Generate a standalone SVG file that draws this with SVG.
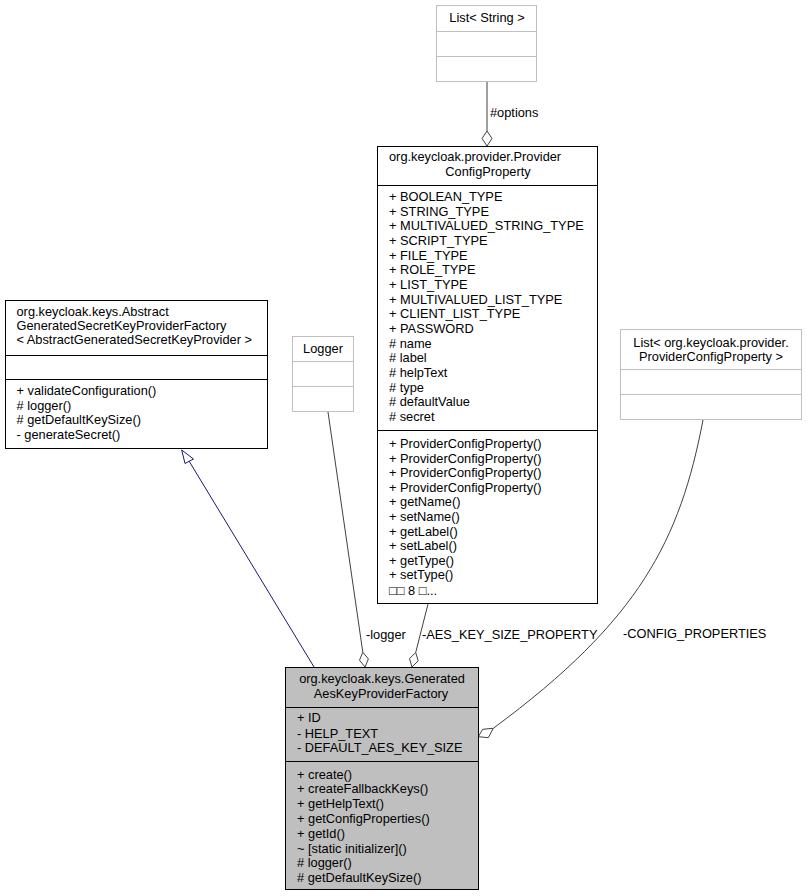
<svg xmlns="http://www.w3.org/2000/svg" width="807" height="896" viewBox="0 0 807 896">
<style>
text{font-family:"Liberation Sans",Arial,sans-serif;font-size:12.8px;fill:#000}
.m{text-anchor:middle}
.box{fill:#fff;stroke:#000;stroke-width:1}
.gbox{fill:#fff;stroke:#bfbfbf;stroke-width:1}
.main{fill:#bfbfbf;stroke:#000;stroke-width:1}
.sep{stroke:#000;stroke-width:1}
.gsep{stroke:#bfbfbf;stroke-width:1}
.agg{fill:none;stroke:#404040;stroke-width:1}
.dia{fill:#fff;stroke:#404040;stroke-width:1}
.inh{fill:none;stroke:#191970;stroke-width:1}
.tri{fill:#fff;stroke:#191970;stroke-width:1}
</style>
<rect width="807" height="896" fill="#fff"/>
<g id="connectors">
  <path class="agg" d="M487,82 L487,131"/>
  <polygon class="dia" points="487,146 482,138.5 487,131 492,138.5"/>
  <text x="490" y="117">#options</text>
  <path class="inh" d="M314,667 L189,461"/>
  <polygon class="tri" points="181.7,450 185,463.5 193.5,459"/>
  <path class="agg" d="M328,412 L362.8,652.2"/>
  <polygon class="dia" points="365,667 359.5,660.2 362.8,652.2 368.4,659"/>
  <text x="366" y="639">-logger</text>
  <path class="agg" d="M428,604 L415.7,652.5"/>
  <polygon class="dia" points="412,667 409.5,658.6 415.7,652.5 418.2,660.8"/>
  <text x="422" y="639">-AES_KEY_SIZE_PROPERTY</text>
  <path class="agg" d="M703,420 C680,540 640,620 493.3,728.3"/>
  <polygon class="dia" points="478.3,736.7 482.7,729.3 493.3,728.3 488.3,737.7"/>
  <text x="623" y="638">-CONFIG_PROPERTIES</text>
</g>
<g id="node-list-string">
  <rect class="gbox" x="436.5" y="5.5" width="100" height="76"/>
  <line class="gsep" x1="436.5" y1="31.5" x2="536.5" y2="31.5"/>
  <line class="gsep" x1="436.5" y1="56.5" x2="536.5" y2="56.5"/>
  <text class="m" x="487" y="22">List&lt; String &gt;</text>
</g>
<g id="node-provider-config-property">
  <rect class="box" x="377.5" y="146.5" width="220" height="457"/>
  <line class="sep" x1="377.5" y1="185.5" x2="597.5" y2="185.5"/>
  <line class="sep" x1="377.5" y1="430.5" x2="597.5" y2="430.5"/>
  <text x="389" y="161">org.keycloak.provider.Provider</text>
  <text class="m" x="488" y="176">ConfigProperty</text>
  <text x="389" y="201">+ BOOLEAN_TYPE</text>
  <text x="389" y="215.7">+ STRING_TYPE</text>
  <text x="389" y="230.3">+ MULTIVALUED_STRING_TYPE</text>
  <text x="389" y="245">+ SCRIPT_TYPE</text>
  <text x="389" y="259.7">+ FILE_TYPE</text>
  <text x="389" y="274.3">+ ROLE_TYPE</text>
  <text x="389" y="289">+ LIST_TYPE</text>
  <text x="389" y="303.7">+ MULTIVALUED_LIST_TYPE</text>
  <text x="389" y="318.3">+ CLIENT_LIST_TYPE</text>
  <text x="389" y="333">+ PASSWORD</text>
  <text x="389" y="347.7"># name</text>
  <text x="389" y="362.3"># label</text>
  <text x="389" y="377"># helpText</text>
  <text x="389" y="391.7"># type</text>
  <text x="389" y="406.3"># defaultValue</text>
  <text x="389" y="421"># secret</text>
  <text x="389" y="448">+ ProviderConfigProperty()</text>
  <text x="389" y="462.6">+ ProviderConfigProperty()</text>
  <text x="389" y="477.2">+ ProviderConfigProperty()</text>
  <text x="389" y="491.8">+ ProviderConfigProperty()</text>
  <text x="389" y="506.4">+ getName()</text>
  <text x="389" y="521">+ setName()</text>
  <text x="389" y="535.6">+ getLabel()</text>
  <text x="389" y="550.2">+ setLabel()</text>
  <text x="389" y="564.8">+ getType()</text>
  <text x="389" y="579.4">+ setType()</text>
  <text x="389" y="595">□□ 8 □...</text>
</g>
<g id="node-abstract-factory">
  <rect class="box" x="5.5" y="300.5" width="262" height="148"/>
  <line class="sep" x1="5.5" y1="355.5" x2="267.5" y2="355.5"/>
  <line class="sep" x1="5.5" y1="379.5" x2="267.5" y2="379.5"/>
  <text x="16.5" y="316">org.keycloak.keys.Abstract</text>
  <text x="16.5" y="330">GeneratedSecretKeyProviderFactory</text>
  <text x="16.5" y="344">&lt; AbstractGeneratedSecretKeyProvider &gt;</text>
  <text x="16.5" y="395">+ validateConfiguration()</text>
  <text x="16.5" y="409.5"># logger()</text>
  <text x="16.5" y="424"># getDefaultKeySize()</text>
  <text x="16.5" y="438.5">- generateSecret()</text>
</g>
<g id="node-logger">
  <rect class="gbox" x="292.5" y="336.5" width="61" height="75"/>
  <line class="gsep" x1="292.5" y1="361.5" x2="353.5" y2="361.5"/>
  <line class="gsep" x1="292.5" y1="386.5" x2="353.5" y2="386.5"/>
  <text class="m" x="323" y="353">Logger</text>
</g>
<g id="node-list-provider-config-property">
  <rect class="gbox" x="620.5" y="329.5" width="181" height="90"/>
  <line class="gsep" x1="620.5" y1="369.5" x2="801.5" y2="369.5"/>
  <line class="gsep" x1="620.5" y1="394.5" x2="801.5" y2="394.5"/>
  <text class="m" x="711" y="347">List&lt; org.keycloak.provider.</text>
  <text class="m" x="711" y="361">ProviderConfigProperty &gt;</text>
</g>
<g id="node-generated-aes-key-provider-factory">
  <rect class="main" x="285.5" y="667.5" width="193" height="222"/>
  <line class="sep" x1="285.5" y1="707.5" x2="478.5" y2="707.5"/>
  <line class="sep" x1="285.5" y1="761.5" x2="478.5" y2="761.5"/>
  <text class="m" x="382" y="683">org.keycloak.keys.Generated</text>
  <text class="m" x="381" y="698">AesKeyProviderFactory</text>
  <text x="297" y="722">+ ID</text>
  <text x="297" y="737.5">- HELP_TEXT</text>
  <text x="297" y="752">- DEFAULT_AES_KEY_SIZE</text>
  <text x="297" y="778.5">+ create()</text>
  <text x="297" y="793.3">+ createFallbackKeys()</text>
  <text x="297" y="808.1">+ getHelpText()</text>
  <text x="297" y="822.9">+ getConfigProperties()</text>
  <text x="297" y="837.7">+ getId()</text>
  <text x="297" y="852.5">~ [static initializer]()</text>
  <text x="297" y="867.3"># logger()</text>
  <text x="297" y="882.1"># getDefaultKeySize()</text>
</g>
</svg>
